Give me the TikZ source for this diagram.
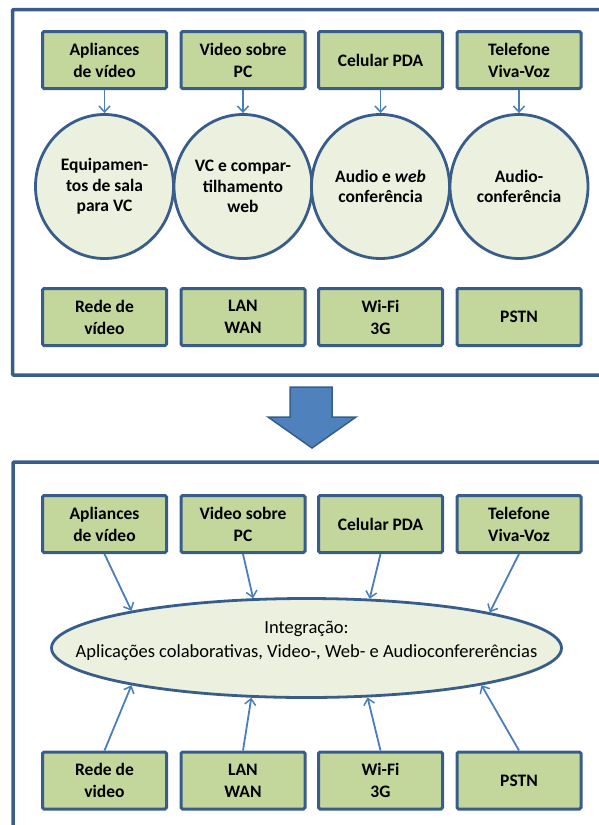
\documentclass[tikz,border=0pt]{standalone}
\usepackage{fontspec}
\setmainfont{Carlito}
\usetikzlibrary{shapes.geometric,arrows.meta}
\definecolor{frameblue}{HTML}{385D8A}
\definecolor{boxgreen}{HTML}{C3D69B}
\definecolor{ellgreen}{HTML}{EBF1DE}
\definecolor{linkblue}{HTML}{4A7EBB}
\definecolor{arrowfill}{HTML}{4F81BD}

\begin{document}
\begin{tikzpicture}[x=1pt,y=-1pt,
  panel/.style={draw=frameblue, line width=3.5pt, rounded corners=1pt},
  itembox/.style={draw=frameblue, fill=boxgreen, line width=3pt,
    rounded corners=1.5pt, minimum width=124pt, minimum height=57pt,
    inner sep=0pt, align=center,
    font=\fontsize{17.5}{22}\selectfont\bfseries},
  service/.style={ellipse, draw=frameblue, fill=ellgreen, line width=2.8pt,
    minimum width=138pt, minimum height=144pt, inner sep=0pt, align=center,
    font=\fontsize{17.5}{20.5}\selectfont\bfseries},
  hub/.style={ellipse, draw=frameblue, fill=ellgreen, line width=2.8pt,
    minimum width=510pt, minimum height=99pt, inner sep=0pt},
  link/.style={draw=linkblue, line width=1.8pt,
    -{Straight Barb[length=6pt, width=11pt, line width=1.5pt]}}
]
\useasboundingbox (0,0) rectangle (599,825);
\clip (0,0) rectangle (599,825);

% ---------- upper panel: separate solutions ----------
\draw[panel] (640,375) -- (12.5,375) -- (12.5,9.5) -- (640,9.5);

\node[itembox] (a1) at (104.5,60) {Apliances\\de vídeo};
\node[itembox] (a2) at (243,60)   {Video sobre\\PC};
\node[itembox] (a3) at (380.5,60) {Celular PDA};
\node[itembox] (a4) at (519,60)   {Telefone\\Viva-Voz};

\node[service] (s1) at (104.5,186.5) {Equipamen-\\tos de sala\\para VC};
\node[service] (s2) at (243,186.5)   {VC e compar-\\tilhamento\\web};
\node[service] (s3) at (380.5,186.5) {Audio e \textit{web}\\conferência};
\node[service] (s4) at (519,186.5)   {Audio-\\conferência};

\foreach \i in {1,...,4} \draw[link] (a\i.south) -- (s\i.north);

\node[itembox] (n1) at (104.5,317) {Rede de\\vídeo};
\node[itembox] (n2) at (243,317)   {LAN\\WAN};
\node[itembox] (n3) at (380.5,317) {Wi-Fi\\3G};
\node[itembox] (n4) at (519,317)   {PSTN};

% ---------- transition arrow ----------
\filldraw[fill=arrowfill, draw=frameblue, line width=1.5pt, line join=miter]
  (290,387) -- (332,387) -- (332,417) -- (356,417) -- (312,448)
  -- (268,417) -- (290,417) -- cycle;

% ---------- lower panel: integrated solution ----------
\draw[panel] (640,462) -- (13,462) -- (13,900);

\node[itembox] (b1) at (104.5,524) {Apliances\\de vídeo};
\node[itembox] (b2) at (243,524)   {Video sobre\\PC};
\node[itembox] (b3) at (380.5,524) {Celular PDA};
\node[itembox] (b4) at (519,524)   {Telefone\\Viva-Voz};

\node[hub] (hub) at (306.5,648) {};
\node[align=center, font=\fontsize{18.5}{24}\selectfont] (hubtext) at (306.5,641)
  {Integração:\\Aplicações colaborativas, Video-, Web- e Audioconfererências};

\node[itembox] (m1) at (104.5,780.5) {Rede de\\video};
\node[itembox] (m2) at (243,780.5)   {LAN\\WAN};
\node[itembox] (m3) at (380.5,780.5) {Wi-Fi\\3G};
\node[itembox] (m4) at (519,780.5)   {PSTN};

\draw[link] (b1.south) -- (hub.168.8);
\draw[link] (b2.south) -- (hub.137.5);
\draw[link] (b3.south) -- (hub.38.7);
\draw[link] (b4.south) -- (hub.11.2);

\draw[link] (m1.north) -- (hub.192.6);
\draw[link] (m2.north) -- (hub.222.5);
\draw[link] (m3.north) -- (hub.321.3);
\draw[link] (m4.north) -- (hub.348.5);
\end{tikzpicture}
\end{document}
